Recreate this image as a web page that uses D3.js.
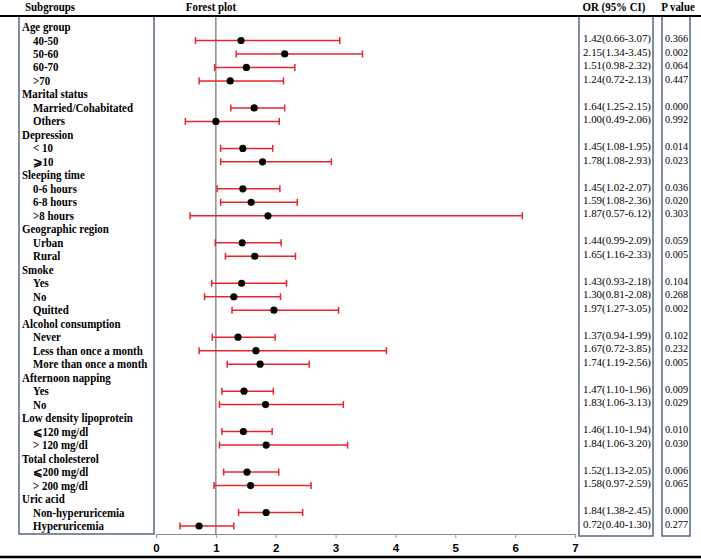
<!DOCTYPE html>
<html>
<head>
<meta charset="utf-8">
<script src="https://cdn.jsdelivr.net/npm/d3@7"></script>
<style>
  html, body { margin: 0; padding: 0; background: #fff; }
  svg { display: block; }
</style>
</head>
<body>
<svg id="chart" width="701" height="560"></svg>
<script>
// ---------- DATA ----------
const labels = [
  "Age group", "40-50", "50-60", "60-70", ">70",
  "Marital status", "Married/Cohabitated", "Others",
  "Depression", "< 10", "\u2A7E10",
  "Sleeping time", "0-6 hours", "6-8 hours", ">8 hours",
  "Geographic region", "Urban", "Rural",
  "Smoke", "Yes", "No", "Quitted",
  "Alcohol consumption", "Never", "Less than once a month", "More than once a month",
  "Afternoon napping", "Yes", "No",
  "Low density lipoprotein", "\u2A7D120 mg/dl", "> 120 mg/dl",
  "Total cholesterol", "\u2A7D200 mg/dl", "> 200 mg/dl",
  "Uric acid", "Non-hyperuricemia", "Hyperuricemia"
];
const isHeading = [
  1,0,0,0,0, 1,0,0, 1,0,0, 1,0,0,0, 1,0,0, 1,0,0,0, 1,0,0,0, 1,0,0, 1,0,0, 1,0,0, 1,0,0
];
const orValues = [
  null,1.42,2.15,1.51,1.24, null,1.64,1.00, null,1.45,1.78, null,1.45,1.59,1.87,
  null,1.44,1.65, null,1.43,1.30,1.97, null,1.37,1.67,1.74, null,1.47,1.83,
  null,1.46,1.84, null,1.52,1.58, null,1.84,0.72
];
const ciLow = [
  null,0.66,1.34,0.98,0.72, null,1.25,0.49, null,1.08,1.08, null,1.02,1.08,0.57,
  null,0.99,1.16, null,0.93,0.81,1.27, null,0.94,0.72,1.19, null,1.10,1.06,
  null,1.10,1.06, null,1.13,0.97, null,1.38,0.40
];
const ciHigh = [
  null,3.07,3.45,2.32,2.13, null,2.15,2.06, null,1.95,2.93, null,2.07,2.36,6.12,
  null,2.09,2.33, null,2.18,2.08,3.05, null,1.99,3.85,2.56, null,1.96,3.13,
  null,1.94,3.20, null,2.05,2.59, null,2.45,1.30
];
const pValues = [
  null,"0.366","0.002","0.064","0.447", null,"0.000","0.992", null,"0.014","0.023",
  null,"0.036","0.020","0.303", null,"0.059","0.005", null,"0.104","0.268","0.002",
  null,"0.102","0.232","0.005", null,"0.009","0.029", null,"0.010","0.030",
  null,"0.006","0.065", null,"0.000","0.277"
];
const xTicks = [0, 1, 2, 3, 4, 5, 6, 7];
const headers = ["Subgroups", "Forest plot", "OR (95% CI)", "P value"];

// ---------- CHART ----------
const svg = d3.select("#chart");
const rows = labels.map((l, i) => ({
  i, label: l, heading: !!isHeading[i], or: orValues[i], lo: ciLow[i], hi: ciHigh[i], p: pValues[i]
}));
const dataRows = rows.filter(d => d.or !== null);

const y = d3.scalePoint().domain(d3.range(labels.length)).range([27, 526]);
const x = d3.scaleLinear().domain([0, 7]).range([156, 575]);
const f2 = d3.format(".2f");
const serif = "Liberation Serif, Times New Roman, serif";
const boxColor = "#5f7189";
const red = "#e8242c";

// fit a text selection horizontally so that a reference string gets a reference width
function fitWidth(sel, refText, refWidth) {
  const nodes = sel.nodes();
  const ref = nodes.find(n => n.textContent === refText) || nodes[0];
  const k = refWidth / ref.getComputedTextLength();
  nodes.forEach(n => {
    const w = n.getComputedTextLength();
    n.setAttribute("textLength", (w * k).toFixed(2));
    n.setAttribute("lengthAdjust", "spacingAndGlyphs");
  });
}

// header
const hdr = svg.append("g").attr("font-family", serif).attr("font-weight", "bold").attr("font-size", 11.5);
const hdrPos = [[25, "start"], [211, "middle"], [614, "middle"], [678, "middle"]];
const hdrText = hdr.selectAll("text").data(headers).join("text")
  .attr("x", (d, i) => hdrPos[i][0]).attr("y", 11)
  .attr("text-anchor", (d, i) => hdrPos[i][1]).text(d => d);
fitWidth(hdrText, "Subgroups", 50);

// boxes
const boxes = [[19, 16, 154, 534], [579, 16, 653, 536], [662, 16, 690, 536]];
svg.append("g").selectAll("rect").data(boxes).join("rect")
  .attr("x", d => d[0]).attr("y", d => d[1])
  .attr("width", d => d[2] - d[0]).attr("height", d => d[3] - d[1])
  .attr("fill", "none").attr("stroke", boxColor).attr("stroke-width", 1.6);

// reference line at OR = 1
svg.append("line")
  .attr("x1", x(1)).attr("x2", x(1)).attr("y1", 17).attr("y2", 534)
  .attr("stroke", "#7a7a7a").attr("stroke-width", 1.3);

// axis
const axis = svg.append("g").attr("transform", "translate(0,534)")
  .call(d3.axisBottom(x).tickValues(xTicks).tickFormat(d3.format("d")).tickSize(4).tickPadding(6));
axis.select(".domain").attr("stroke", "#888").attr("stroke-width", 1.2);
axis.selectAll(".tick line").attr("stroke", "#999");
axis.selectAll(".tick text").attr("font-family", "Liberation Sans, Arial, sans-serif")
  .attr("font-weight", "bold").attr("font-size", 11.5).attr("fill", "#000");

// top and bottom rules
svg.append("line").attr("x1", 0).attr("x2", 701).attr("y1", 16).attr("y2", 16)
  .attr("stroke", "#000").attr("stroke-width", 2);
svg.append("line").attr("x1", 0).attr("x2", 701).attr("y1", 557).attr("y2", 557)
  .attr("stroke", "#000").attr("stroke-width", 2.5);

// labels
const lab = svg.append("g").selectAll("text").data(rows).join("text")
  .attr("x", d => d.heading ? 22 : 33)
  .attr("y", d => y(d.i)).attr("dy", "0.35em")
  .attr("font-family", serif).attr("font-weight", "bold").attr("font-size", 11.5)
  .text(d => d.label);
fitWidth(lab, "Married/Cohabitated", 100);

// CI lines
const ci = svg.append("g").attr("stroke", red).attr("stroke-width", 1.5);
ci.selectAll("line.ci").data(dataRows).join("line").attr("class", "ci")
  .attr("x1", d => x(d.lo)).attr("x2", d => x(d.hi))
  .attr("y1", d => y(d.i)).attr("y2", d => y(d.i));
ci.selectAll("line.capL").data(dataRows).join("line").attr("class", "capL")
  .attr("x1", d => x(d.lo)).attr("x2", d => x(d.lo))
  .attr("y1", d => y(d.i) - 3.5).attr("y2", d => y(d.i) + 3.5);
ci.selectAll("line.capR").data(dataRows).join("line").attr("class", "capR")
  .attr("x1", d => x(d.hi)).attr("x2", d => x(d.hi))
  .attr("y1", d => y(d.i) - 3.5).attr("y2", d => y(d.i) + 3.5);

// points
svg.append("g").selectAll("circle").data(dataRows).join("circle")
  .attr("cx", d => x(d.or)).attr("cy", d => y(d.i)).attr("r", 3.6).attr("fill", "#000");

// OR text
const orText = svg.append("g").selectAll("text").data(dataRows).join("text")
  .attr("x", 583).attr("y", d => y(d.i) - 2).attr("dy", "0.35em")
  .attr("font-family", serif).attr("font-size", 10.5)
  .text(d => `${f2(d.or)}(${f2(d.lo)}-${f2(d.hi)})`);
fitWidth(orText, "1.42(0.66-3.07)", 68);

// P text
const pText = svg.append("g").selectAll("text").data(dataRows).join("text")
  .attr("x", 665).attr("y", d => y(d.i) - 2).attr("dy", "0.35em")
  .attr("font-family", serif).attr("font-size", 10.5)
  .text(d => d.p);
fitWidth(pText, "0.366", 23);
</script>
</body>
</html>
